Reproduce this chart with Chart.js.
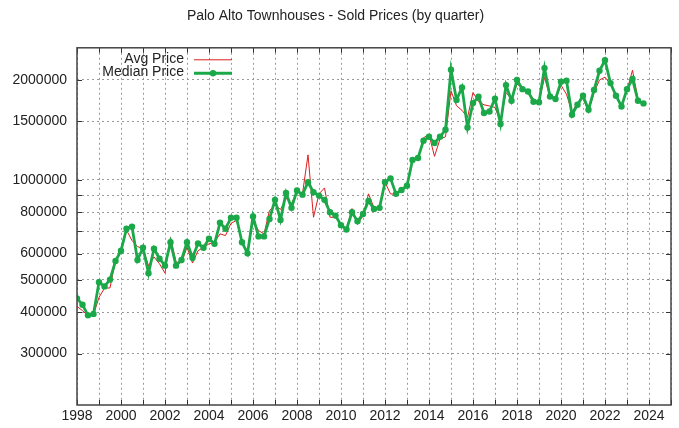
<!DOCTYPE html>
<html>
<head>
<meta charset="utf-8">
<script src="https://cdn.jsdelivr.net/npm/chart.js@4.4.1/dist/chart.umd.min.js"></script>
<style>
  html, body { margin: 0; padding: 0; background: #fff; }
  #chart { display: block; }
</style>
</head>
<body>
<canvas id="chart" width="679" height="428"></canvas>
<script>
// quarters 1998 Q1 .. 2023 Q4
const years = [1998, 1999, 2000, 2001, 2002, 2003, 2004, 2005, 2006, 2007, 2008, 2009, 2010,
               2011, 2012, 2013, 2014, 2015, 2016, 2017, 2018, 2019, 2020, 2021, 2022, 2023];

// values in thousands of dollars, one row of 4 quarters per year
const avgPrice = [
  416, 404, 390, 393,
  443, 472, 473, 572,
  612, 706, 657, 630,
  621, 552, 586, 559,
  524, 672, 566, 563,
  627, 562, 612, 627,
  642, 649, 688, 680,
  740, 755, 649, 605,
  755, 704, 688, 809,
  840, 815, 880, 850,
  920, 910, 1190, 772,
  908, 946, 772, 772,
  735, 710, 820, 734,
  780, 908, 825, 820,
  984, 908, 905, 930,
  955, 1150, 1160, 1340,
  1368, 1178, 1328, 1349,
  1856, 1673, 1620, 1542,
  1834, 1720, 1684, 1670,
  1653, 1500, 1834, 1750,
  1944, 1890, 1850, 1750,
  1720, 2035, 1780, 1750,
  1930, 1810, 1600, 1710,
  1760, 1610, 1830, 2000,
  2040, 1940, 1780, 1670,
  1860, 2140, 1750, 1690
];
const medianPrice = [
  440, 421, 391, 395,
  492, 478, 501, 570,
  612, 713, 723, 574,
  625, 524, 621, 579,
  552, 649, 552, 574,
  649, 583, 644, 625,
  665, 642, 743, 713,
  769, 769, 649, 601,
  776, 676, 676, 763,
  871, 758, 914, 824,
  929, 903, 984, 918,
  897, 871, 799, 781,
  731, 709, 799, 751,
  790, 865, 818, 824,
  984, 1011, 908, 933,
  961, 1148, 1164, 1313,
  1349, 1292, 1349, 1416,
  2148, 1742, 1898, 1439,
  1704, 1780, 1590, 1608,
  1758, 1473, 1930, 1732,
  2000, 1877, 1847, 1720,
  1713, 2172, 1784, 1752,
  1975, 1990, 1572, 1684,
  1793, 1627, 1865, 2132,
  2295, 1957, 1793, 1665,
  1877, 2013, 1732, 1700
];

const yTicks = [300000, 400000, 500000, 600000, 700000, 800000, 900000, 1000000, 1500000, 2000000];
const yLabels = [300000, 400000, 500000, 600000, 800000, 1000000, 1500000, 2000000];

const FONT = '"Liberation Sans", Arial, sans-serif';
const RED = 'rgb(220,30,30)';
const GREEN = 'rgb(26,168,72)';

const quarterX = [];
years.forEach((y)=>{
  for (let q = 0; q < 4; q++) quarterX.push(y + q / 4);
});
const toPoints = (arr)=> arr.map((v, i)=>({x: quarterX[i], y: v * 1000}));

// gnuplot style frame + inward ticks
const framePlugin = {
  id: 'frame',
  afterDraw(chart) {
    const {ctx, chartArea: a, scales} = chart;
    ctx.save();
    ctx.strokeStyle = '#333';
    ctx.lineWidth = 1;
    scales.x.ticks.forEach((t)=>{
      const px = Math.round(scales.x.getPixelForValue(t.value)) + 0.5;
      ctx.beginPath();
      ctx.moveTo(px, a.bottom); ctx.lineTo(px, a.bottom - 5);
      ctx.moveTo(px, a.top); ctx.lineTo(px, a.top + 5);
      ctx.stroke();
    });
    yTicks.forEach((v)=>{
      const py = Math.round(scales.y.getPixelForValue(v)) + 0.5;
      ctx.beginPath();
      ctx.moveTo(a.left, py); ctx.lineTo(a.left + 5, py);
      ctx.moveTo(a.right, py); ctx.lineTo(a.right - 5, py);
      ctx.stroke();
    });
    ctx.strokeStyle = '#444';
    ctx.lineWidth = 1.5;
    ctx.strokeRect(a.left, a.top, a.right - a.left, a.bottom - a.top);

    // key
    ctx.font = '14px ' + FONT;
    ctx.fillStyle = '#222';
    ctx.textAlign = 'right';
    ctx.textBaseline = 'middle';
    const rows = [
      {label: chart.data.datasets[0].label, y: a.top + 11, color: RED, w: 1, pt: false},
      {label: chart.data.datasets[1].label, y: a.top + 24.5, color: GREEN, w: 3, pt: true}
    ];
    rows.forEach((r)=>{
      ctx.fillText(r.label, a.left + 107, r.y);
      ctx.strokeStyle = r.color;
      ctx.lineWidth = r.w;
      ctx.beginPath();
      ctx.moveTo(a.left + 117, r.y + 1); ctx.lineTo(a.left + 155, r.y + 1);
      ctx.stroke();
      if (r.pt) {
        ctx.fillStyle = r.color;
        ctx.beginPath();
        ctx.arc(a.left + 136, r.y + 1, 3.2, 0, Math.PI * 2);
        ctx.fill();
        ctx.fillStyle = '#222';
      }
    });
    ctx.restore();
  }
};

const ctx = document.getElementById('chart').getContext('2d');
const chart = new Chart(ctx, {
  type: 'line',
  data: {
    datasets: [{
      label: 'Avg Price',
      data: toPoints(avgPrice),
      borderColor: RED,
      borderWidth: 1,
      pointRadius: 0,
      tension: 0,
      fill: false,
      order: 2
    }, {
      label: 'Median Price',
      data: toPoints(medianPrice),
      borderColor: GREEN,
      backgroundColor: GREEN,
      borderWidth: 2.8,
      pointRadius: 3.2,
      pointBorderWidth: 0,
      pointBackgroundColor: GREEN,
      tension: 0,
      fill: false,
      order: 1
    }]
  },
  options: {
    responsive: false,
    animation: false,
    devicePixelRatio: 1,
    layout: {padding: {left: 0, right: 8, top: 0, bottom: 0}},
    plugins: {
      legend: {display: false},
      tooltip: {enabled: false},
      title: {
        display: true,
        text: 'Palo Alto Townhouses - Sold Prices (by quarter)',
        color: '#222',
        font: {family: FONT, size: 14, weight: 'normal'},
        padding: {top: 8, bottom: 23}
      }
    },
    scales: {
      x: {
        type: 'linear',
        min: 1998,
        max: 2025,
        afterFit: (s)=>{ s.height = 23; },
        ticks: {
          stepSize: 1,
          autoSkip: false,
          maxRotation: 0,
          padding: 3,
          color: '#222',
          font: {family: FONT, size: 14},
          callback: (v)=> v % 2 === 0 ? String(v) : ''
        },
        grid: {color: '#9a9a9a', drawTicks: false, lineWidth: 1},
        border: {display: false, dash: [2, 3]}
      },
      y: {
        type: 'logarithmic',
        min: 210000,
        max: 2500000,
        afterFit: (s)=>{ s.width = 77; },
        afterBuildTicks: (axis)=>{ axis.ticks = yTicks.map((v)=>({value: v})); },
        ticks: {
          padding: 10,
          color: '#222',
          font: {family: FONT, size: 14},
          callback: (v)=> yLabels.includes(v) ? String(v) : ''
        },
        grid: {color: '#9a9a9a', drawTicks: false, lineWidth: 1},
        border: {display: false, dash: [2, 3]}
      }
    }
  },
  plugins: [framePlugin]
});
</script>
</body>
</html>
